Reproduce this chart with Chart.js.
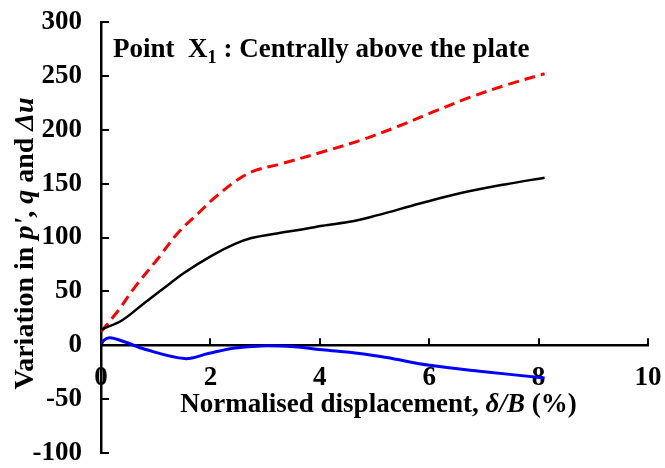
<!DOCTYPE html>
<html>
<head>
<meta charset="utf-8">
<script src="https://cdn.jsdelivr.net/npm/chart.js@4.4.1/dist/chart.umd.min.js"></script>
<style>
  html, body { margin: 0; padding: 0; background: #fff; }
  #wrap { width: 665px; height: 468px; }
</style>
</head>
<body>
<div id="wrap"><canvas id="grafico"></canvas></div>
<script>
// Datos (desplazamiento normalizado en %, variación en kPa)
const xQ = [0, 0.38, 0.8, 1.11, 1.53, 2.02, 2.45, 2.75, 3.24, 3.67, 4.05, 4.6, 5.04, 5.83, 6.56, 7.41, 8.11];
const yQ = [14.5, 23, 39.5, 51.5, 67.5, 83, 94, 99.5, 104, 107.5, 111, 115, 120.5, 131.5, 141, 149.5, 155.5];

const xP = [0, 0.32, 0.62, 1.05, 1.41, 1.78, 2.08, 2.51, 2.81, 3.3, 4.09, 4.79, 5.4, 6.07, 6.74, 7.41, 8.11];
const yP = [12.4, 32.5, 54, 81, 104.5, 122.5, 137, 154, 162, 168.5, 180, 191, 202.5, 216.5, 230, 241.5, 252];

const xU = [0, 0.05, 0.16, 0.44, 0.8, 1.53, 1.96, 2.45, 2.94, 3.54, 4.05, 4.73, 5.22, 6.01, 6.92, 8.11];
const yU = [0, 4.5, 7, 3, -3.7, -12.4, -7.7, -2.5, -0.6, -1.5, -4.2, -7.7, -11.4, -18.6, -24.1, -30.3];

const xTicks = [0, 2, 4, 6, 8, 10];
const yTicks = [-100, -50, 0, 50, 100, 150, 200, 250, 300];

const fuente = 'Liberation Serif, Times New Roman, serif';

function puntos(xs, ys) {
    return xs.map((x, i) => ({ x: x, y: ys[i] }));
}

// dibuja un texto con trozos en cursiva / subíndice
function dibujarTrozos(ctx, trozos, x, y, size, align) {
    const medir = t => {
        ctx.font = (t.italic ? 'italic ' : '') + 'bold ' + (t.sub ? size * 0.68 : size) + 'px ' + fuente;
        return ctx.measureText(t.text).width;
    };
    const total = trozos.reduce((s, t) => s + medir(t), 0);
    let cx = align === 'center' ? x - total / 2 : x;
    ctx.textBaseline = 'alphabetic';
    ctx.textAlign = 'left';
    trozos.forEach(t => {
        const w = medir(t);
        ctx.fillText(t.text, cx, t.sub ? y + size * 0.22 : y);
        cx += w;
    });
}

const extras = {
    id: 'extras',
    afterDraw(chart) {
        const ctx = chart.ctx;
        const sx = chart.scales.x, sy = chart.scales.y;
        const y0 = sy.getPixelForValue(0);
        ctx.save();
        ctx.strokeStyle = '#000';
        ctx.lineWidth = 2;
        // marcas hacia dentro
        yTicks.forEach(v => {
            const py = Math.round(sy.getPixelForValue(v));
            ctx.beginPath();
            ctx.moveTo(sx.left, py);
            ctx.lineTo(sx.left + 8, py);
            ctx.stroke();
        });
        xTicks.slice(1).forEach(v => {
            const px = Math.round(sx.getPixelForValue(v));
            ctx.beginPath();
            ctx.moveTo(px, y0);
            ctx.lineTo(px, y0 - 7);
            ctx.stroke();
        });
        ctx.fillStyle = '#000';
        // título interior
        dibujarTrozos(ctx, [
            { text: 'Point  X' },
            { text: '1', sub: true },
            { text: ' : Centrally above the plate' }
        ], sx.left + 12, 57, 27, 'left');
        // título eje x
        dibujarTrozos(ctx, [
            { text: 'Normalised displacement, ' },
            { text: 'δ/B', italic: true },
            { text: ' (%)' }
        ], (sx.left + sx.right) / 2 + 4, y0 + 67, 27, 'center');
        // título eje y
        ctx.translate(33, (chart.chartArea.top + chart.chartArea.bottom) / 2 + 6);
        ctx.rotate(-Math.PI / 2);
        dibujarTrozos(ctx, [
            { text: 'Variation in ' },
            { text: 'p\'', italic: true },
            { text: ', ' },
            { text: 'q', italic: true },
            { text: ' and ' },
            { text: 'Δu', italic: true }
        ], 0, 0, 28, 'center');
        ctx.restore();
    }
};

const ctxGrafico = document.getElementById('grafico').getContext('2d');
new Chart(ctxGrafico, {
    type: 'line',
    data: {
        datasets: [{
            label: 'q',
            data: puntos(xQ, yQ),
            borderColor: '#000000',
            borderWidth: 2.5,
            pointRadius: 0,
            tension: 0.35
        }, {
            label: "p'",
            data: puntos(xP, yP),
            borderColor: '#ff0000',
            borderWidth: 3,
            borderDash: [11, 6],
            pointRadius: 0,
            tension: 0.35
        }, {
            label: 'Δu',
            data: puntos(xU, yU),
            borderColor: '#0000ff',
            borderWidth: 3,
            pointRadius: 0,
            tension: 0.35
        }]
    },
    options: {
        responsive: true,
        maintainAspectRatio: false,
        animation: false,
        layout: { padding: { left: 0, top: 22, right: 17, bottom: 15 } },
        plugins: {
            legend: { display: false },
            tooltip: { enabled: false }
        },
        scales: {
            x: {
                type: 'linear',
                position: { y: 0 },
                min: 0,
                max: 10,
                grid: { drawOnChartArea: false, drawTicks: false },
                border: { display: true, color: '#000', width: 2.5 },
                afterFit: (scale) => {
                    scale.height = 0;
                    scale.paddingLeft = 0;
                    scale.paddingRight = 0;
                },
                ticks: {
                    stepSize: 2,
                    padding: 17,
                    color: '#000',
                    font: { family: fuente, size: 27, weight: 'bold' }
                }
            },
            y: {
                type: 'linear',
                min: -100,
                max: 300,
                grid: { drawOnChartArea: false, drawTicks: false },
                border: { display: true, color: '#000', width: 2.5 },
                afterFit: (scale) => {
                    scale.width = 101;
                    scale.paddingTop = 0;
                    scale.paddingBottom = 0;
                },
                ticks: {
                    stepSize: 50,
                    padding: 19,
                    color: '#000',
                    font: { family: fuente, size: 27, weight: 'bold' }
                }
            }
        }
    },
    plugins: [extras]
});
</script>
</body>
</html>
